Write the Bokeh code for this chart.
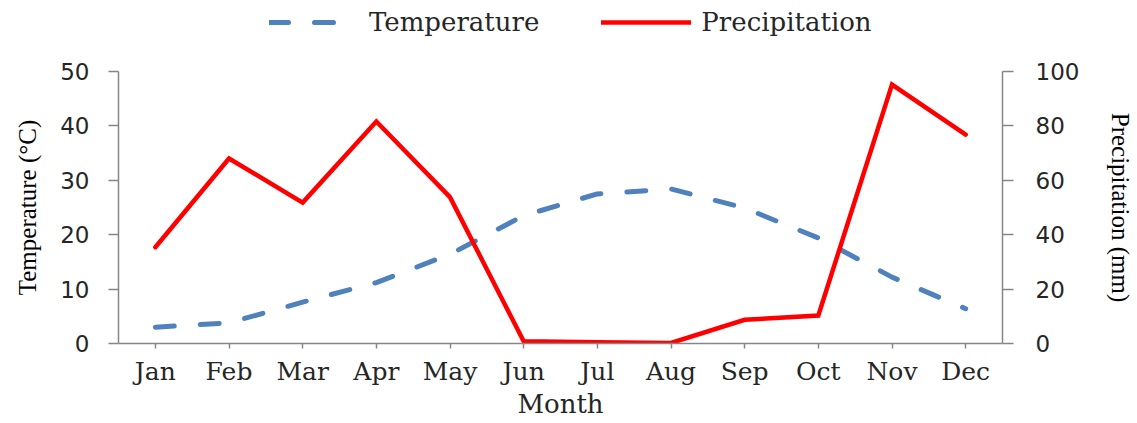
from bokeh.plotting import figure
from bokeh.layouts import column
from bokeh.models import (Range1d, LinearAxis, FixedTicker, Legend, LegendItem)
from bokeh.embed import file_html
from bokeh.resources import INLINE

months = ["Jan", "Feb", "Mar", "Apr", "May", "Jun", "Jul", "Aug", "Sep", "Oct", "Nov", "Dec"]
temperature = [3.0, 3.8, 7.6, 11.2, 16.4, 23.5, 27.5, 28.4, 24.9, 19.4, 12.2, 6.4]
precipitation = [35.4, 68.0, 51.8, 81.6, 53.8, 0.8, 0.5, 0.2, 8.7, 10.3, 95.2, 76.8]
temp_ticks = [0, 10, 20, 30, 40, 50]
precip_ticks = [0, 20, 40, 60, 80, 100]

xs = list(range(len(months)))

BLUE = "#4F81BD"
RED = "#FF0000"
AXIS = "#868686"
TXT = "#262626"
W = 1137

# ---- legend strip (top) ----
lg = figure(width=W, height=40, output_backend="svg", toolbar_location=None,
            x_axis_type=None, y_axis_type=None, min_border=0,
            x_range=Range1d(0, 1), y_range=Range1d(0, 1))
lg.outline_line_color = None
nan = float("nan")
leg_t = lg.line(x=[nan], y=[nan], line_color=BLUE, line_width=5, line_dash="19 26", line_cap="round")
leg_p = lg.line(x=[nan], y=[nan], line_color=RED, line_width=4.5, line_cap="round")
legend = Legend(items=[LegendItem(label="Temperature", renderers=[leg_t]),
                       LegendItem(label="Precipitation", renderers=[leg_p])],
                orientation="horizontal", location=(151, 3),
                glyph_width=90, glyph_height=24, label_standoff=10, spacing=62,
                padding=0, margin=0, label_text_font="DejaVu Serif",
                label_text_font_size="26px", label_text_color=TXT,
                background_fill_alpha=0, border_line_color=None)
lg.add_layout(legend, "center")

# ---- main chart ----
p = figure(width=W, height=381, output_backend="svg", toolbar_location=None,
           x_range=Range1d(-0.5, len(months) - 0.5), y_range=Range1d(0, 50),
           min_border_left=118, min_border_right=135, min_border_top=31,
           min_border_bottom=78)
p.extra_y_ranges = {"precip": Range1d(0, 100)}
p.outline_line_color = None
p.xgrid.visible = False
p.ygrid.visible = False

try:
    temp_r = p.spline(x=xs, y=temperature, line_color=BLUE, line_width=5,
                      line_dash="19 26", line_cap="round", tension=0.5)
except Exception:
    temp_r = p.line(x=xs, y=temperature, line_color=BLUE, line_width=5,
                    line_dash="19 26", line_cap="round")

prec_r = p.line(x=xs, y=precipitation, y_range_name="precip", line_color=RED,
                line_width=4.5, line_join="miter", line_cap="round")

xa = p.xaxis[0]
xa.ticker = FixedTicker(ticks=xs)
xa.major_label_overrides = {i: m for i, m in enumerate(months)}
xa.major_label_text_font = "DejaVu Serif"
xa.major_label_text_font_size = "25px"
xa.major_label_text_color = TXT
xa.major_label_standoff = 8
xa.major_tick_out = 5
xa.major_tick_in = 0
xa.minor_tick_line_color = None
xa.axis_line_color = AXIS
xa.axis_line_width = 1.5
xa.major_tick_line_color = AXIS
xa.major_tick_line_width = 1.5
xa.axis_label = "Month"
xa.axis_label_text_font = "DejaVu Serif"
xa.axis_label_text_font_size = "26px"
xa.axis_label_text_font_style = "normal"
xa.axis_label_text_color = TXT
xa.axis_label_standoff = 0

ya = p.yaxis[0]
ya.ticker = FixedTicker(ticks=temp_ticks)
ya.major_label_text_font = "DejaVu Sans"
ya.major_label_text_font_size = "23px"
ya.major_label_text_color = TXT
ya.major_label_standoff = 19
ya.major_tick_out = 10
ya.major_tick_in = 0
ya.minor_tick_line_color = None
ya.axis_line_color = AXIS
ya.axis_line_width = 1.5
ya.major_tick_line_color = AXIS
ya.major_tick_line_width = 1.5
ya.axis_label = "Temperature (°C)"
ya.axis_label_text_font = "Liberation Serif"
ya.axis_label_text_font_size = "25px"
ya.axis_label_text_font_style = "normal"
ya.axis_label_text_color = "black"
ya.axis_label_standoff = 16

ra = LinearAxis(y_range_name="precip", ticker=FixedTicker(ticks=precip_ticks))
ra.major_label_text_font = "DejaVu Sans"
ra.major_label_text_font_size = "23px"
ra.major_label_text_color = TXT
ra.major_label_standoff = 22
ra.major_tick_out = 11
ra.major_tick_in = 0
ra.minor_tick_line_color = None
ra.axis_line_color = AXIS
ra.axis_line_width = 1.5
ra.major_tick_line_color = AXIS
ra.major_tick_line_width = 1.5
ra.axis_label = "Precipitation (mm)"
ra.axis_label_text_font = "Liberation Serif"
ra.axis_label_text_font_size = "25px"
ra.axis_label_text_font_style = "normal"
ra.axis_label_text_color = "black"
ra.axis_label_standoff = 25
p.add_layout(ra, "right")

layout = column(lg, p, spacing=0)
open("out.html", "w").write(file_html(layout, INLINE))
